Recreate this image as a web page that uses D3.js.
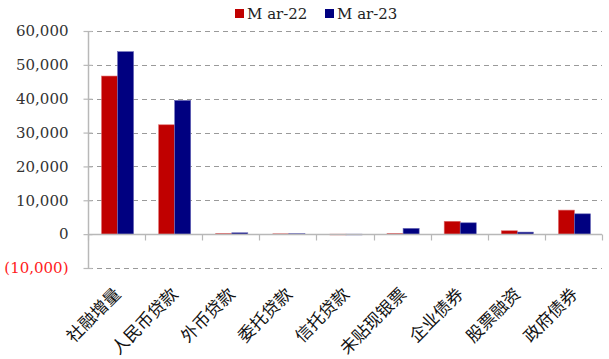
<!DOCTYPE html>
<html>
<head>
<meta charset="utf-8">
<script src="https://cdn.jsdelivr.net/npm/d3@7"></script>
<style>
  body { margin: 0; background: #fff; }
  svg { display: block; }
</style>
</head>
<body>
<svg id="chart" width="609" height="359"></svg>
<script>
// Social financing flows by component (RMB 100 million)
const categories = ["社融增量", "人民币贷款", "外币贷款", "委托贷款", "信托贷款", "未贴现银票", "企业债券", "股票融资", "政府债券"];
const seriesNames = ["M ar-22", "M ar-23"];
const mar22 = [46700, 32300, 200, 100, -150, 200, 3800, 1000, 7100];
const mar23 = [53900, 39500, 400, 150, -50, 1700, 3350, 600, 6000];
const yTicks = [-10000, 0, 10000, 20000, 30000, 40000, 50000, 60000];
const colors = ["#C00000", "#000080"];

const svg = d3.select("#chart");
const margin = { left: 88, right: 7, top: 31, bottom: 91 };
const W = 609, H = 359;

const x = d3.scaleBand().domain(categories).range([margin.left, W - margin.right]).paddingInner(0).paddingOuter(0);
const y = d3.scaleLinear().domain([-10000, 60000]).range([H - margin.bottom, margin.top]);
const inner = d3.scaleBand().domain(seriesNames).range([0, x.bandwidth()]).paddingInner(0).paddingOuter(0.78);

const serif = "'DejaVu Serif', 'Liberation Serif', serif";
const cjk = "'Noto Sans CJK SC', sans-serif";

// dashed gridlines
svg.append("g").selectAll("line").data(yTicks.filter(d => d !== 0)).join("line")
  .attr("x1", margin.left).attr("x2", W - margin.right)
  .attr("y1", d => Math.round(y(d)) + 0.5).attr("y2", d => Math.round(y(d)) + 0.5)
  .attr("stroke", "#9a9a9a").attr("stroke-width", 1.2).attr("stroke-dasharray", "5,4");

// y axis
const yAxis = d3.axisLeft(y).tickValues(yTicks).tickSize(5).tickPadding(15)
  .tickFormat(d => d < 0 ? "(" + d3.format(",")(-d) + ")" : d3.format(",")(d));
const gy = svg.append("g").attr("transform", `translate(${margin.left + 0.5},0)`).call(yAxis);
gy.attr("font-family", null).attr("font-size", null);
gy.select(".domain").attr("stroke", "#b8b8b8").attr("stroke-width", 1.5).attr("d", `M0,${y(-10000)}V${y(60000)}`);
gy.selectAll(".tick line").attr("stroke", "#b8b8b8").attr("stroke-width", 1.2).attr("x1", 4);
gy.selectAll(".tick text")
  .style("font-family", serif).style("font-size", "15px")
  .attr("fill", d => d < 0 ? "#ff2020" : "#333");

// bars
const data = categories.map((c, i) => ({ c, vals: [mar22[i], mar23[i]] }));
const groups = svg.append("g").selectAll("g").data(data).join("g")
  .attr("transform", d => `translate(${x(d.c) + 1},0)`);
groups.selectAll("rect").data(d => d.vals.map((v, j) => ({ v, j }))).join("rect")
  .attr("x", d => inner(seriesNames[d.j]))
  .attr("width", inner.bandwidth())
  .attr("y", d => Math.min(y(d.v), y(0)))
  .attr("height", d => Math.max(Math.abs(y(d.v) - y(0)), 0.8))
  .attr("fill", d => colors[d.j])
  .attr("stroke", d => d.j === 0 ? "#e07070" : "#6a6ab8")
  .attr("stroke-width", 0.6);

// x axis at zero
const y0 = Math.round(y(0)) + 0.5;
svg.append("line").attr("x1", margin.left).attr("x2", W - margin.right)
  .attr("y1", y0).attr("y2", y0).attr("stroke", "#b8b8b8").attr("stroke-width", 1.5);
svg.append("g").selectAll("line").data(categories.map(c => x(c)).concat([x.range()[1]])).join("line")
  .attr("x1", d => Math.round(d) + 0.5).attr("x2", d => Math.round(d) + 0.5)
  .attr("y1", y0).attr("y2", y0 + 6).attr("stroke", "#b8b8b8").attr("stroke-width", 1.2);

// category labels, rotated
svg.append("g").selectAll("text").data(categories).join("text")
  .attr("transform", d => `translate(${x(d) + x.bandwidth() / 2},${y(-10000) + 22}) rotate(-45)`)
  .attr("text-anchor", "end").attr("dominant-baseline", "central")
  .style("font-family", cjk).style("font-size", "17px").attr("fill", "#111")
  .text(d => d);

// legend
const legend = svg.append("g").selectAll("g").data(seriesNames).join("g")
  .attr("transform", (d, i) => `translate(${235 + i * 90},8)`);
legend.append("rect").attr("width", 9).attr("height", 9).attr("y", 1)
  .attr("fill", (d, i) => colors[i]);
legend.append("text").attr("x", 12).attr("y", 6).attr("dominant-baseline", "central")
  .style("font-family", serif).style("font-size", "15px").attr("fill", "#222")
  .style("white-space", "pre")
  .text(d => d);
</script>
</body>
</html>
